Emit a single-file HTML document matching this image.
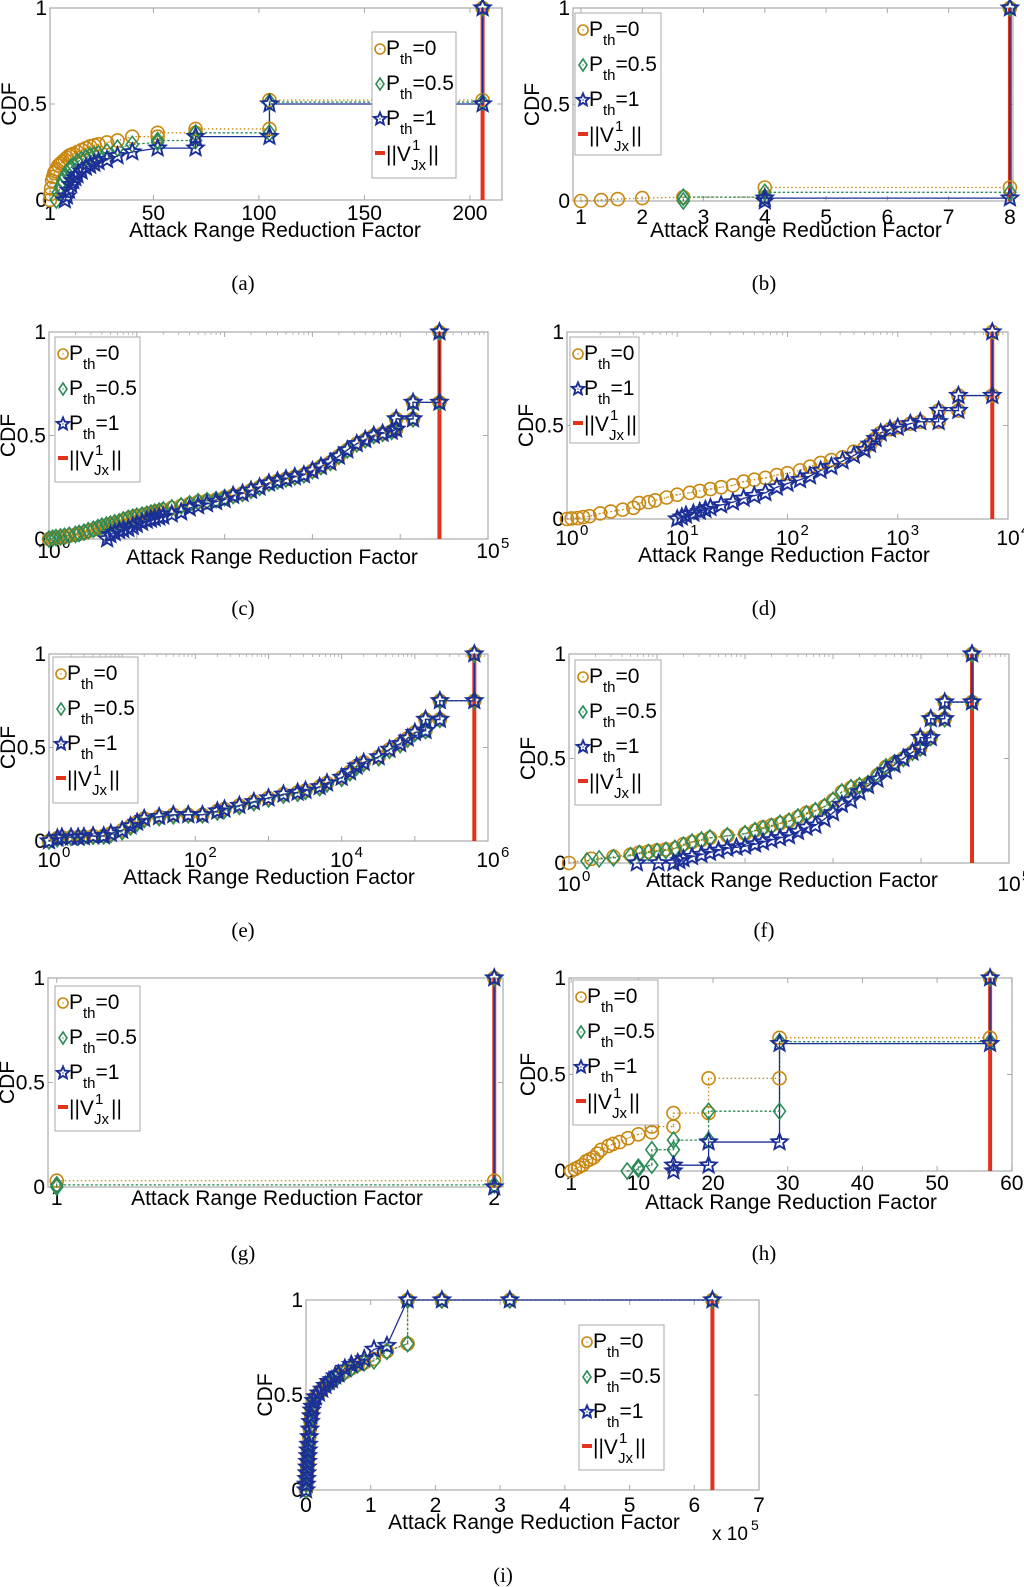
<!DOCTYPE html>
<html>
<head>
<meta charset="utf-8">
<style>
html,body{margin:0;padding:0;background:#fff;}
svg{display:block;}
</style>
</head>
<body>
<svg id="fig" width="1024" height="1587" viewBox="0 0 1024 1587" xmlns="http://www.w3.org/2000/svg" font-family="'Liberation Sans', Arial, sans-serif"></svg>
<script>
// ---------------- DATA ----------------
// (a)
const aXTicks = [1, 50, 100, 150, 200];
const aXTickLabels = ['1', '50', '100', '150', '200'];
const aRed = 206;
const aP0x = [1,1.2,1.5,2,2.5,3,3.5,4,5,6,7,8,9,10,11,12,14,16,18,20,22,24,28,33,40,52,52,70,70,105,105,206,206];
const aP0y = [0,0.03,0.06,0.1,0.12,0.14,0.15,0.16,0.18,0.19,0.2,0.21,0.22,0.23,0.235,0.24,0.25,0.26,0.27,0.28,0.285,0.29,0.3,0.31,0.33,0.33,0.35,0.35,0.37,0.37,0.52,0.52,1];
const aP05x = [4,5,6,7,8,9,10,11,12,14,16,18,20,22,24,28,33,40,52,52,70,70,105,105,206,206];
const aP05y = [0,0.04,0.07,0.1,0.12,0.14,0.16,0.17,0.18,0.2,0.21,0.22,0.23,0.235,0.24,0.25,0.27,0.29,0.3,0.31,0.31,0.35,0.35,0.51,0.51,1];
const aP1x = [8,9,10,11,12,13,14,16,18,20,22,24,28,33,40,52,70,70,105,105,206,206];
const aP1y = [0,0.02,0.05,0.08,0.1,0.115,0.13,0.15,0.17,0.18,0.19,0.2,0.21,0.23,0.25,0.27,0.27,0.33,0.33,0.5,0.5,1];
// (b)
const bXTicks = [1,2,3,4,5,6,7,8];
const bXTickLabels = ['1','2','3','4','5','6','7','8'];
const bRed = 8;
const bP0x = [1,1.33,1.6,2,2.67,4,4,8,8];
const bP0y = [0,0.005,0.01,0.015,0.02,0.02,0.07,0.07,1];
const bP05x = [2.67,2.67,4,4,8,8];
const bP05y = [0,0.02,0.02,0.045,0.045,1];
const bP1x = [4,4,8,8];
const bP1y = [0,0.015,0.015,1];
// (c)
const cXTicks = [1, 100000];
const cXTickLabels = ['0', '5'];
const cRed = 28000;
const cP0x = [1,1.1,1.2,1.35,1.5,1.7,2,2.2,2.5,2.8,3.2,3.6,4,4.5,5,5.6,6.3,7,8,9,10,11.5,13,14.5,16,18,20,25,32,40,50,63,80,100,125,160,200,250,320,400,500,630,800,1000,1250,1600,2000,2500,3200,4000,5000,6300,8000,9000,9000,14000,14000,28000,28000];
const cP0y = [0,0.003,0.005,0.008,0.01,0.015,0.02,0.025,0.03,0.038,0.045,0.052,0.06,0.065,0.07,0.075,0.08,0.09,0.1,0.105,0.11,0.115,0.12,0.125,0.13,0.135,0.14,0.15,0.16,0.17,0.18,0.185,0.19,0.2,0.21,0.22,0.235,0.25,0.27,0.28,0.29,0.3,0.31,0.33,0.35,0.37,0.4,0.43,0.46,0.48,0.5,0.51,0.52,0.53,0.58,0.58,0.66,0.66,1];
const cP05x = [1,1.1,1.2,1.35,1.5,1.7,2,2.2,2.5,2.8,3.2,3.6,4,4.5,5,5.6,6.3,7,8,9,10,11.5,13,14.5,16,18,20,25,32,40,50,63,80,100,125,160,200,250,320,400,500,630,800,1000,1250,1600,2000,2500,3200,4000,5000,6300,8000,9000,9000,14000,14000,28000,28000];
const cP05y = [0,0.004,0.007,0.01,0.013,0.018,0.022,0.027,0.033,0.04,0.047,0.055,0.062,0.067,0.072,0.078,0.083,0.092,0.1,0.105,0.11,0.115,0.12,0.125,0.13,0.135,0.14,0.15,0.16,0.17,0.18,0.185,0.19,0.2,0.21,0.22,0.235,0.25,0.27,0.28,0.29,0.3,0.31,0.33,0.35,0.37,0.4,0.43,0.46,0.48,0.5,0.51,0.52,0.53,0.58,0.58,0.66,0.66,1];
const cP1x = [4.6,5,5.6,6.3,7,8,9,10,11.5,13,14.5,16,18,20,25,32,40,50,63,80,100,125,160,200,250,320,400,500,630,800,1000,1250,1600,2000,2500,3200,4000,5000,6300,8000,9000,9000,14000,14000,28000,28000];
const cP1y = [0,0.02,0.03,0.04,0.045,0.05,0.06,0.07,0.08,0.09,0.095,0.1,0.105,0.11,0.12,0.13,0.15,0.16,0.17,0.18,0.19,0.21,0.22,0.235,0.25,0.27,0.28,0.29,0.3,0.31,0.33,0.35,0.37,0.4,0.43,0.46,0.48,0.5,0.51,0.52,0.53,0.58,0.58,0.66,0.66,1];
// (d)
const dXTicks = [1,10,100,1000,10000];
const dXTickLabels = ['0','1','2','3','4'];
const dRed = 7200;
const dP0x = [1,1.1,1.25,1.4,1.6,2,2.5,3.2,4,4.5,5.5,6.3,8,10,13,16,20,25,32,40,50,63,80,100,130,160,200,250,316,400,500,560,630,700,850,1000,1300,1600,2350,2350,3550,3550,7200,7200];
const dP0y = [0,0.003,0.005,0.01,0.015,0.03,0.04,0.05,0.06,0.085,0.09,0.1,0.115,0.13,0.14,0.15,0.16,0.17,0.18,0.2,0.21,0.22,0.235,0.245,0.26,0.28,0.3,0.315,0.33,0.36,0.38,0.4,0.43,0.46,0.48,0.49,0.51,0.52,0.52,0.58,0.58,0.66,0.66,1];
const dP1x = [10,11,12,14,16,18,20,25,32,40,50,63,80,100,130,160,200,250,316,400,500,560,630,700,850,1000,1300,1600,2350,2350,3550,3550,7200,7200];
const dP1y = [0,0.01,0.02,0.03,0.04,0.05,0.06,0.075,0.09,0.11,0.125,0.14,0.17,0.19,0.21,0.23,0.26,0.28,0.31,0.34,0.37,0.4,0.43,0.46,0.48,0.49,0.51,0.52,0.52,0.58,0.58,0.66,0.66,1];
// (e)
const eXTicks = [1,100,10000,1000000];
const eXTickLabels = ['0','2','4','6'];
const eRed = 650000;
const eP0x = [1,1.3,1.5,2,2.5,3,4,5.6,7,10,13,16,20,32,50,80,125,200,250,400,630,1000,1600,2500,3200,5000,6300,10000,13000,16000,20000,32000,45000,63000,80000,100000,140000,140000,220000,220000,650000,650000];
const eP0y = [0,0.015,0.02,0.02,0.02,0.022,0.027,0.027,0.04,0.057,0.08,0.1,0.12,0.13,0.14,0.14,0.14,0.16,0.17,0.19,0.21,0.23,0.25,0.26,0.27,0.29,0.31,0.34,0.37,0.4,0.42,0.45,0.49,0.52,0.55,0.58,0.59,0.65,0.65,0.75,0.75,1];
const eP05x = [1,1.3,1.5,2,2.5,3,4,5.6,7,10,13,16,20,32,50,80,125,200,250,400,630,1000,1600,2500,3200,5000,6300,10000,13000,16000,20000,32000,45000,63000,80000,100000,140000,140000,220000,220000,650000,650000];
const eP05y = [0,0.012,0.018,0.02,0.02,0.022,0.025,0.027,0.035,0.05,0.075,0.095,0.115,0.125,0.135,0.14,0.14,0.155,0.165,0.185,0.205,0.225,0.245,0.255,0.265,0.285,0.305,0.335,0.365,0.395,0.415,0.445,0.485,0.515,0.545,0.575,0.59,0.65,0.65,0.75,0.75,1];
const eP1x = [1,1.3,1.5,2,2.5,3,4,5.6,7,10,13,16,20,32,50,80,125,200,250,400,630,1000,1600,2500,3200,5000,6300,10000,13000,16000,20000,32000,45000,63000,80000,100000,140000,140000,220000,220000,650000,650000];
const eP1y = [0,0.015,0.02,0.02,0.02,0.022,0.027,0.027,0.04,0.057,0.08,0.1,0.12,0.13,0.14,0.14,0.14,0.16,0.17,0.19,0.21,0.23,0.25,0.26,0.27,0.29,0.31,0.34,0.37,0.4,0.42,0.45,0.49,0.52,0.55,0.58,0.59,0.65,0.65,0.75,0.75,1];
// (f)
const fXTicks = [1, 100000];
const fXTickLabels = ['0','5'];
const fRed = 38000;
const fP0x = [1,1.8,3.2,5,6.3,8,10,12.6,16,20,25,32,40,63,100,130,160,200,250,316,400,500,630,800,1000,1260,1600,2000,2500,3200,4000,5000,6300,8000,9800,9800,12900,12900,18600,18600,38000,38000];
const fP0y = [0,0.02,0.03,0.04,0.05,0.055,0.06,0.065,0.07,0.09,0.1,0.11,0.12,0.13,0.14,0.155,0.17,0.18,0.19,0.2,0.22,0.24,0.25,0.27,0.3,0.34,0.36,0.37,0.38,0.42,0.46,0.48,0.5,0.53,0.55,0.6,0.6,0.69,0.69,0.77,0.77,1];
const fP05x = [1.6,2.2,3.2,5,6.3,8,10,12.6,16,20,25,32,40,63,100,130,160,200,250,316,400,500,630,800,1000,1260,1600,2000,2500,3200,4000,5000,6300,8000,9800,9800,12900,12900,18600,18600,38000,38000];
const fP05y = [0.01,0.02,0.025,0.035,0.045,0.05,0.055,0.06,0.07,0.085,0.1,0.11,0.12,0.13,0.14,0.155,0.165,0.175,0.19,0.2,0.22,0.235,0.25,0.27,0.3,0.34,0.36,0.37,0.38,0.42,0.46,0.48,0.5,0.53,0.55,0.6,0.6,0.69,0.69,0.77,0.77,1];
const fP1x = [5.9,10.4,15.4,18,20,25,32,40,50,63,80,100,130,160,200,250,316,400,500,630,800,1000,1260,1600,2000,2500,3200,4000,5000,6300,8000,9800,9800,12900,12900,18600,18600,38000,38000];
const fP1y = [0,0,0,0.01,0.02,0.03,0.04,0.05,0.06,0.07,0.075,0.08,0.09,0.1,0.11,0.12,0.13,0.15,0.17,0.18,0.21,0.24,0.28,0.3,0.34,0.37,0.4,0.44,0.47,0.5,0.53,0.55,0.6,0.6,0.69,0.69,0.77,0.77,1];
// (g)
const gXTicks = [1,2];
const gXTickLabels = ['1','2'];
const gRed = 2;
const gP0x = [1,2,2];
const gP0y = [0.03,0.03,1];
const gP05x = [1,1,2,2];
const gP05y = [0,0.01,0.01,1];
const gP1x = [2,2];
const gP1y = [0,1];
// (h)
const hXTicks = [1,10,20,30,40,50,60];
const hXTickLabels = ['1','10','20','30','40','50','60'];
const hRed = 57.1;
const hP0x = [1,1.5,2,2.5,3,3.5,4,4.5,5,6,6.6,7.5,8.6,10,11.8,11.8,14.7,14.7,19.4,19.4,28.9,28.9,57.1,57.1];
const hP0y = [0,0.01,0.02,0.03,0.05,0.06,0.07,0.09,0.11,0.13,0.14,0.15,0.17,0.19,0.2,0.23,0.23,0.3,0.3,0.48,0.48,0.69,0.69,1];
const hP05x = [8.5,10,10,11.8,11.8,14.7,14.7,19.4,19.4,28.9,28.9,57.1,57.1];
const hP05y = [0,0.01,0.02,0.03,0.11,0.11,0.16,0.16,0.31,0.31,0.67,0.67,1];
const hP1x = [14.7,14.7,19.4,19.4,28.9,28.9,57.1,57.1];
const hP1y = [0,0.03,0.03,0.15,0.15,0.66,0.66,1];
// (i)
const iXTicks = [0,100000,200000,300000,400000,500000,600000,700000];
const iXTickLabels = ['0','1','2','3','4','5','6','7'];
const iRed = 628000;
const iP0x = [0,500,1000,1500,2000,2500,3000,3500,4000,5000,6000,7000,8000,9000,10000,12000,15000,20000,25000,30000,35000,40000,45000,50000,60000,70000,80000,90000,105000,125000,157000,157000,210000,315000,628000];
const iP0y = [0,0.03,0.06,0.09,0.12,0.15,0.18,0.21,0.24,0.28,0.32,0.36,0.39,0.42,0.44,0.47,0.49,0.51,0.53,0.55,0.56,0.57,0.59,0.6,0.62,0.64,0.66,0.67,0.69,0.73,0.77,1,1,1,1];
const iP05x = [0,500,1000,1500,2000,2500,3000,3500,4000,5000,6000,7000,8000,9000,10000,12000,15000,20000,25000,30000,35000,40000,45000,50000,60000,70000,80000,90000,105000,125000,157000,157000,210000,315000,628000];
const iP05y = [0,0.03,0.06,0.09,0.12,0.15,0.18,0.21,0.24,0.28,0.32,0.36,0.39,0.42,0.44,0.47,0.49,0.51,0.53,0.55,0.56,0.57,0.59,0.6,0.62,0.64,0.66,0.67,0.68,0.73,0.77,1,1,1,1];
const iP1x = [0,500,1000,1500,2000,2500,3000,3500,4000,5000,6000,7000,8000,9000,10000,12000,15000,20000,25000,30000,35000,40000,45000,50000,60000,70000,80000,90000,105000,125000,157000,210000,315000,628000];
const iP1y = [0,0.03,0.06,0.09,0.12,0.15,0.18,0.21,0.24,0.28,0.32,0.36,0.39,0.42,0.44,0.47,0.49,0.51,0.53,0.55,0.57,0.58,0.6,0.61,0.64,0.66,0.67,0.69,0.74,0.76,1,1,1,1];

const yTicks = [0, 0.5, 1];
const yTickLabels = ['0', '0.5', '1'];

// ---------------- STYLE / LAYOUT ----------------
const C0 = '#c8870e', C05 = '#2e8b57', C1 = '#1c2f97', CR = '#e3321b', AX = '#a9a9a9';
function S0(xs, ys){ return {key:'pth-0', color:C0, dash:'1.5 2.5', marker:'circle', xs:xs, ys:ys, label:'0'}; }
function S05(xs, ys){ return {key:'pth-0-5', color:C05, dash:'2.5 2', marker:'diamond', xs:xs, ys:ys, label:'0.5'}; }
function S1(xs, ys){ return {key:'pth-1', color:C1, dash:null, marker:'star', xs:xs, ys:ys, label:'1'}; }

const panels = [
 {id:'a', box:[50,8,502,200], log:false, xmin:1, xmax:215.2, ticks:aXTicks, labels:aXTickLabels, red:aRed, tickDy:13, labDy:30, labX:275, leg:[372,32,456,178], cap:[243,283], series:[S0(aP0x,aP0y),S05(aP05x,aP05y),S1(aP1x,aP1y)]},
 {id:'b', box:[573,8,1013,201], log:false, xmin:0.87, xmax:8.05, ticks:bXTicks, labels:bXTickLabels, red:bRed, tickDy:16, labDy:29, labX:796, leg:[575,13,661,155], cap:[764,283], series:[S0(bP0x,bP0y),S05(bP05x,bP05y),S1(bP1x,bP1y)]},
 {id:'c', box:[49,332,488,539], log:true, xmin:0, xmax:5, ticks:cXTicks, labels:cXTickLabels, decades:[0,1,2,3,4,5], red:cRed, tickDy:12, labDy:18, labX:272, leg:[55,337,140,482], cap:[243,608], series:[S0(cP0x,cP0y),S05(cP05x,cP05y),S1(cP1x,cP1y)]},
 {id:'d', box:[567,332,1008,519], log:true, xmin:0, xmax:4, ticks:dXTicks, labels:dXTickLabels, decades:[0,1,2,3,4], red:dRed, tickDy:19, labDy:36, labX:784, leg:[570,337,639,443], cap:[764,608], series:[S0(dP0x,dP0y),S1(dP1x,dP1y)]},
 {id:'e', box:[49,654,488,841], log:true, xmin:0, xmax:6, ticks:eXTicks, labels:eXTickLabels, decades:[0,1,2,3,4,5,6], red:eRed, tickDy:19, labDy:36, labX:269, leg:[53,657,138,803], cap:[243,930], series:[S0(eP0x,eP0y),S05(eP05x,eP05y),S1(eP1x,eP1y)]},
 {id:'f', box:[569,654,1009,863], log:true, xmin:0, xmax:5, ticks:fXTicks, labels:fXTickLabels, decades:[0,1,2,3,4,5], red:fRed, tickDy:21, labDy:17, labX:792, leg:[575,660,661,805], cap:[764,930], series:[S0(fP0x,fP0y),S05(fP05x,fP05y),S1(fP1x,fP1y)]},
 {id:'g', box:[48,978,503,1187], log:false, xmin:0.98, xmax:2.02, ticks:gXTicks, labels:gXTickLabels, red:gRed, tickDy:11, labDy:11, labX:277, leg:[55,986,140,1131], cap:[243,1253], series:[S0(gP0x,gP0y),S05(gP05x,gP05y),S1(gP1x,gP1y)]},
 {id:'h', box:[569,978,1012,1171], log:false, xmin:0.71, xmax:60.03, ticks:hXTicks, labels:hXTickLabels, red:hRed, tickDy:12, labDy:31, labX:791, leg:[573,980,658,1125], cap:[764,1253], series:[S0(hP0x,hP0y),S05(hP05x,hP05y),S1(hP1x,hP1y)]},
 {id:'i', box:[306,1300,759,1490], log:false, xmin:0, xmax:700000, ticks:iXTicks, labels:iXTickLabels, red:iRed, tickDy:15, labDy:32, labX:534, leg:[579,1325,664,1470], cap:[503,1575], exp:true, series:[S0(iP0x,iP0y),S05(iP05x,iP05y),S1(iP1x,iP1y)]}
];

// ---------------- DRAWING ----------------
const NS = 'http://www.w3.org/2000/svg';
const svg = document.getElementById('fig');
function mk(tag, attrs, parent){
  const e = document.createElementNS(NS, tag);
  for (const k in attrs) e.setAttribute(k, attrs[k]);
  (parent || svg).appendChild(e);
  return e;
}
function sx(p, v){
  const t = p.log ? (Math.log10(v) - p.xmin) / (p.xmax - p.xmin) : (v - p.xmin) / (p.xmax - p.xmin);
  return p.box[0] + t * (p.box[2] - p.box[0]);
}
function sy(p, v){ return p.box[3] - v * (p.box[3] - p.box[1]); }

function starPath(cx, cy, R, r){
  let d = '';
  for (let k = 0; k < 10; k++){
    const a = -Math.PI/2 + k * Math.PI/5;
    const rr = (k % 2 === 0) ? R : r;
    d += (k === 0 ? 'M' : 'L') + (cx + rr*Math.cos(a)).toFixed(2) + ' ' + (cy + rr*Math.sin(a)).toFixed(2);
  }
  return d + 'Z';
}
function marker(g, type, cx, cy, color, size){
  let m;
  if (type === 'circle') m = mk('circle', {cx:cx, cy:cy, r:size, fill:'none', stroke:color, 'stroke-width':1.6}, g);
  else if (type === 'diamond') m = mk('path', {d:`M${cx} ${cy-size-1}L${cx+size-1} ${cy}L${cx} ${cy+size+1}L${cx-size+1} ${cy}Z`, fill:'none', stroke:color, 'stroke-width':1.6}, g);
  else m = mk('path', {d:starPath(cx, cy, size+1.5, (size+1.5)*0.45), fill:'none', stroke:color, 'stroke-width':1.9}, g);
  mk('circle', {cx:cx, cy:cy, r:0.7, fill:color}, g);
  return m;
}

panels.forEach(p => {
  const [L, T, R, B] = p.box;
  const g = mk('g', {});
  
  

  const frame = mk('rect', {x:L, y:T, width:R-L, height:B-T, fill:'#fff', stroke:AX, 'stroke-width':1.2}, g);
  
  

  const tickVals = p.log ? p.decades.map(d => Math.pow(10, d)) : p.ticks;
  tickVals.forEach(v => {
    const x = sx(p, v);
    const t1 = mk('line', {x1:x, y1:B, x2:x, y2:B-5, stroke:AX, 'stroke-width':1}, g);
    
    
    const t2 = mk('line', {x1:x, y1:T, x2:x, y2:T+5, stroke:AX, 'stroke-width':1}, g);
    
    
  });
  if (p.log){
    for (let d = p.xmin; d < p.xmax; d++){
      for (let k = 2; k <= 9; k++){
        const x = sx(p, k * Math.pow(10, d));
        const mt = mk('line', {x1:x, y1:T, x2:x, y2:T+3, stroke:AX, 'stroke-width':0.8}, g);
        
        
      }
    }
  }
  p.ticks.forEach((v, i) => {
    const x = sx(p, v);
    const y = B + p.tickDy + 7;
    if (p.log){
      const t = mk('text', {x:x, y:y, 'font-size':21, 'text-anchor':'middle', fill:'#000'}, g);
      
      
      t.textContent = '10';
      const s = mk('text', {x:x+13, y:y-10, 'font-size':15, fill:'#000'}, g);
      
      
      s.textContent = p.labels[i];
    } else {
      const t = mk('text', {x:x, y:y, 'font-size':21, 'text-anchor':'middle', fill:'#000'}, g);
      
      
      t.textContent = p.labels[i];
    }
  });
  yTicks.forEach((v, i) => {
    const y = sy(p, v);
    const l1 = mk('line', {x1:L, y1:y, x2:L+5, y2:y, stroke:AX, 'stroke-width':1}, g);
    
    
    const l2 = mk('line', {x1:R, y1:y, x2:R-5, y2:y, stroke:AX, 'stroke-width':1}, g);
    
    
    const t = mk('text', {x:L-3, y:y+7, 'font-size':21, 'text-anchor':'end', fill:'#000'}, g);
    
    
    t.textContent = yTickLabels[i];
  });
  const yl = mk('text', {x:0, y:0, 'font-size':21, 'text-anchor':'middle', fill:'#000', transform:`translate(${L-34},${(T+B)/2}) rotate(-90)`}, g);
  
  
  yl.textContent = 'CDF';
  const xl = mk('text', {x:p.labX, y:B + p.labDy + 7, 'font-size':21, 'text-anchor':'middle', fill:'#000'}, g);
  
  
  xl.textContent = 'Attack Range Reduction Factor';
  if (p.exp){
    const ex = mk('text', {x:712, y:1540, 'font-size':19, fill:'#000'}, g);
    
    
    ex.textContent = 'x 10';
    const ex2 = mk('text', {x:751, y:1530, 'font-size':14, fill:'#000'}, g);
    
    
    ex2.textContent = '5';
  }
  const rx = sx(p, p.red);
  const rl = mk('line', {x1:rx, y1:sy(p,0), x2:rx, y2:sy(p,1), stroke:CR, 'stroke-width':4}, g);
  
  
  p.series.forEach(s => {
    const pts = s.xs.map((v, k) => sx(p, v).toFixed(2) + ',' + sy(p, s.ys[k]).toFixed(2)).join(' ');
    const attrs = {points:pts, fill:'none', stroke:s.color, 'stroke-width':1.3};
    if (s.dash) attrs['stroke-dasharray'] = s.dash;
    const pl = mk('polyline', attrs, g);
    
    
  });
  p.series.forEach(s => {
    s.xs.forEach((v, k) => {
      const m = marker(g, s.marker, sx(p, v), sy(p, s.ys[k]), s.color, s.marker === 'circle' ? 6.5 : 7);
      
      
    });
  });
  const [lx1, ly1, lx2, ly2] = p.leg;
  const lg = mk('g', {}, g);
  
  
  mk('rect', {x:lx1, y:ly1, width:lx2-lx1, height:ly2-ly1, fill:'#fff', stroke:AX, 'stroke-width':1}, lg);
  p.series.forEach((s, k) => {
    const cy = ly1 + 16 + 35*k;
    const e = mk('g', {}, lg);
    
    
    marker(e, s.marker, lx1 + 8, cy + 1, s.color, 5);
    const t = mk('text', {x:lx1 + 14, y:cy + 7, 'font-size':21, fill:'#000'}, e);
    t.textContent = 'P';
    const sub = mk('tspan', {'font-size':15, dy:9}, t);
    sub.textContent = 'th';
    const rest = mk('tspan', {'font-size':21, dy:-9}, t);
    rest.textContent = '=' + s.label;
  });
  const cyV = ly1 + 16 + 35*p.series.length;
  const ev = mk('g', {}, lg);
  
  
  mk('line', {x1:lx1+3, y1:cyV, x2:lx1+13, y2:cyV, stroke:CR, 'stroke-width':4}, ev);
  const v1 = mk('text', {x:lx1 + 14, y:cyV + 8, 'font-size':21, fill:'#000'}, ev);
  v1.textContent = '||V';
  const v2 = mk('text', {x:lx1 + 40, y:cyV - 3, 'font-size':15, fill:'#000'}, ev);
  v2.textContent = '1';
  const v3 = mk('text', {x:lx1 + 39, y:cyV + 17, 'font-size':15, fill:'#000'}, ev);
  v3.textContent = 'Jx';
  const v4 = mk('text', {x:lx1 + 56, y:cyV + 8, 'font-size':21, fill:'#000'}, ev);
  v4.textContent = '||';
  const cap = mk('text', {x:p.cap[0], y:p.cap[1] + 7, 'font-size':21, 'text-anchor':'middle', 'font-family':"'Liberation Serif', 'Times New Roman', serif", fill:'#000'}, svg);
  
  
  cap.textContent = '(' + p.id + ')';
});
</script>
</body>
</html>
